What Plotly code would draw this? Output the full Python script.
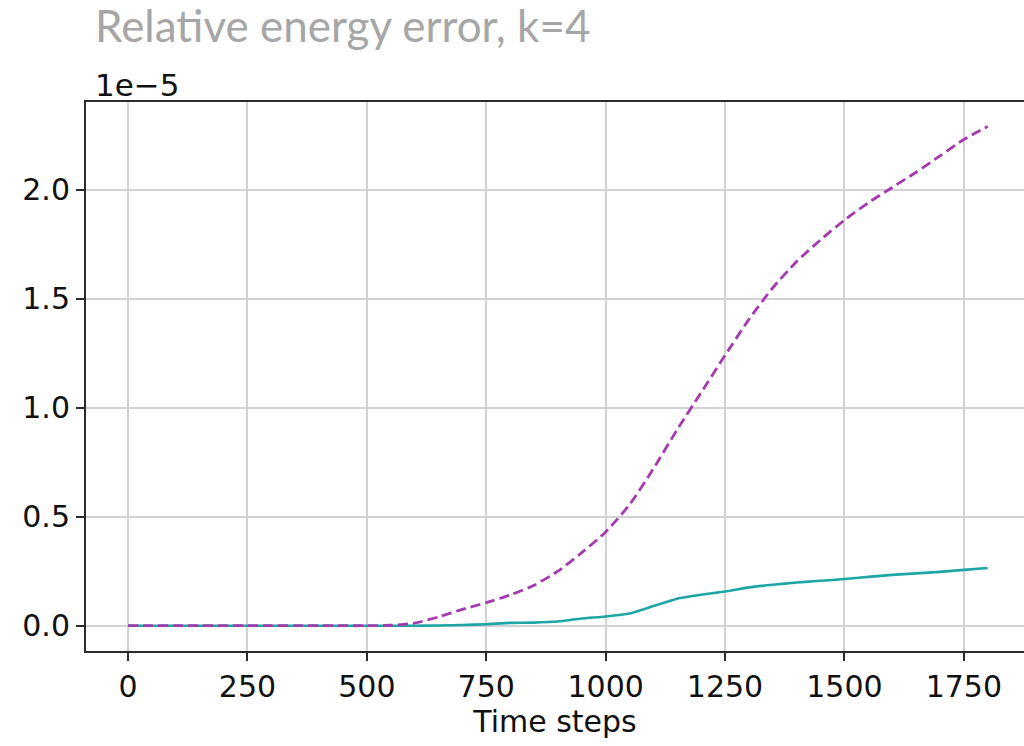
import plotly.graph_objects as go

# Relative energy error per time step, in units of 1e-5
time_steps = list(range(0, 1801, 50))

error_dashed = [
    0, 0, 0, 0, 0, 0, 0, 0, 0, 0, 0,          # 0 .. 500
    0.002, 0.012, 0.040, 0.075, 0.106, 0.141, 0.185, 0.250, 0.335,   # 550 .. 950
    0.430, 0.555, 0.720, 0.900, 1.070, 1.240, 1.405, 1.550, 1.670,   # 1000 .. 1400
    1.770, 1.860, 1.940, 2.010, 2.080, 2.155, 2.230, 2.290,          # 1450 .. 1800
]

error_solid = [
    0, 0, 0, 0, 0, 0, 0, 0, 0, 0, 0,          # 0 .. 500
    0.000, 0.000, 0.001, 0.003, 0.007, 0.013, 0.014, 0.019, 0.033,   # 550 .. 950
    0.042, 0.056, 0.090, 0.124, 0.142, 0.157, 0.176, 0.188, 0.198,   # 1000 .. 1400
    0.206, 0.214, 0.224, 0.233, 0.240, 0.247, 0.256, 0.265,          # 1450 .. 1800
]

x_ticks = [0, 250, 500, 750, 1000, 1250, 1500, 1750]
y_ticks = [0.0, 0.5, 1.0, 1.5, 2.0]

title_text = "Relative energy error, k=4"
offset_text = "1e\u22125"
x_label = "Time steps"

tick_font = dict(family="DejaVu Sans", size=30, color="#111111")

fig = go.Figure()
fig.add_trace(go.Scatter(
    x=time_steps, y=error_solid, mode="lines",
    line=dict(color="#1ea6a6", width=2.6, shape="spline", smoothing=0.5),
    showlegend=False, hoverinfo="skip",
))
fig.add_trace(go.Scatter(
    x=time_steps, y=error_dashed, mode="lines",
    line=dict(color="#a43aae", width=2.8, dash="10px,5px",
              shape="spline", smoothing=0.6),
    showlegend=False, hoverinfo="skip",
))

fig.update_layout(
    width=1024, height=746,
    margin=dict(l=86, r=0, t=102, b=95),
    paper_bgcolor="white", plot_bgcolor="white",
    xaxis=dict(
        range=[-88, 1876],
        tickvals=x_ticks, ticktext=[str(v) for v in x_ticks],
        showgrid=True, gridcolor="#d2d2d2", gridwidth=2,
        zeroline=False,
        showline=True, linecolor="#2b2b2b", linewidth=2, mirror=True,
        ticks="outside", ticklen=8, tickwidth=2, tickcolor="#2b2b2b",
        tickfont=tick_font,
        title=dict(text=x_label, font=tick_font, standoff=5),
    ),
    yaxis=dict(
        range=[-0.116, 2.402],
        tickvals=y_ticks, ticktext=[f"{v:.1f}" for v in y_ticks],
        showgrid=True, gridcolor="#d2d2d2", gridwidth=2,
        zeroline=False,
        showline=True, linecolor="#2b2b2b", linewidth=2, mirror=False,
        ticks="outside", ticklen=8, tickwidth=2, tickcolor="#2b2b2b",
        tickfont=tick_font,
    ),
    annotations=[
        dict(text=title_text, xref="paper", yref="paper",
             x=(93 - 86) / 938, y=(651 - 25) / 549,
             xanchor="left", yanchor="middle", showarrow=False,
             font=dict(family="Lato", size=44, color="#a6a6a6")),
        dict(text=offset_text, xref="paper", yref="paper",
             x=(93 - 86) / 938, y=(651 - 85) / 549,
             xanchor="left", yanchor="middle", showarrow=False,
             font=dict(family="DejaVu Sans", size=31, color="#111111")),
    ],
)

fig.write_html("out.html")
